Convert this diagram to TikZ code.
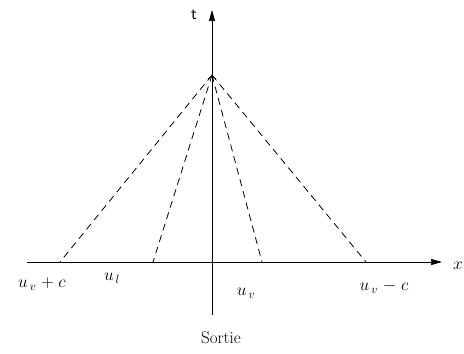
\documentclass[tikz,border=0pt]{standalone}
\usetikzlibrary{arrows.meta}
\begin{document}
\begin{tikzpicture}[x=1pt,y=-1pt,
  axis/.style={line width=0.7pt,-{Triangle[length=11pt,width=6pt]}},
  wave/.style={line width=0.8pt,dash pattern=on 7pt off 5pt},
  lbl/.style={inner sep=0pt,font=\fontsize{17}{20}\selectfont}]
\useasboundingbox (0,0) rectangle (464,354);
\coordinate (xl) at (27,262);
\coordinate (xr) at (442,262);
\coordinate (tb) at (212,315);
\coordinate (tt) at (212,10);
\coordinate (apex) at (212,75);
\coordinate (a) at (60,262);
\coordinate (b) at (153,262);
\coordinate (c) at (262,262);
\coordinate (d) at (366,262);
\draw[axis] (xl) -- (xr);
\draw[axis] (tb) -- (tt);
\draw[line width=0.7pt,-{To[length=4pt,width=8pt]}] (212,95) -- (apex);
\draw[wave] (apex) -- (a);
\draw[wave] (apex) -- (b);
\draw[wave] (apex) -- (c);
\draw[wave] (apex) -- (d);
\node[lbl,font=\fontsize{17}{20}\selectfont\sffamily] (t) at (194,15) {t};
\node[lbl,anchor=west] (x) at (453,266) {$x$};
\node[lbl] (l1) at (42,284) {$u_{\,v}\;\mathbf{+}\;c$};
\node[lbl] (l2) at (112,278) {$u_{\,l}$};
\node[lbl] (l3) at (246,293) {$u_{\,v}$};
\node[lbl] (l4) at (384,287) {$u_{\,v}\;\mathbf{-}\;c$};
\node[lbl] (s) at (221,338) {Sortie};
\end{tikzpicture}
\end{document}
